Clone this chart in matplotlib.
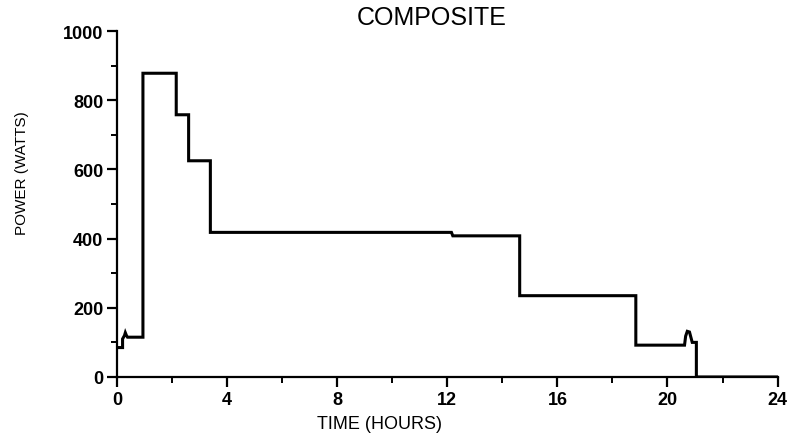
#!/usr/bin/env python
# coding=utf-8

import matplotlib
matplotlib.use('Agg')
import matplotlib.pyplot as plt
from matplotlib.ticker import MultipleLocator

# power profile (hours, watts)
time_h = [0, 0.2, 0.2, 0.27, 0.3, 0.34, 0.38, 0.94, 0.94, 2.15, 2.15, 2.6, 2.6,
          3.39, 3.39, 12.15, 12.2, 14.63, 14.63, 18.85, 18.85, 20.62, 20.66,
          20.72, 20.8, 20.86, 20.9, 21.05, 21.05, 24]
power_w = [85, 85, 110, 120, 128, 120, 115, 115, 878, 878, 758, 758, 625,
           625, 418, 418, 408, 408, 235, 235, 92, 92, 118, 132, 130, 112, 100,
           100, 0, 0]

xticks = [0, 4, 8, 12, 16, 20, 24]
yticks = [0, 200, 400, 600, 800, 1000]

plt.rcParams['font.family'] = ['Liberation Sans', 'DejaVu Sans']

fig = plt.figure(figsize=(7.91, 4.39), dpi=100)
ax = fig.add_axes([0.148, 0.139, 0.835, 0.788])

ax.plot(time_h, power_w, color='black', linewidth=2.2, solid_joinstyle='miter')

ax.set_xlim(0, 24)
ax.set_ylim(0, 1000)
ax.set_xticks(xticks)
ax.set_yticks(yticks)
ax.xaxis.set_minor_locator(MultipleLocator(2))
ax.yaxis.set_minor_locator(MultipleLocator(100))
ax.tick_params(which='major', length=7, width=1.6, labelsize=13, pad=3)
ax.tick_params(which='minor', length=4, width=1.4)
for lab in ax.get_xticklabels() + ax.get_yticklabels():
	lab.set_fontweight('bold')

for side in ['top', 'right']:
	ax.spines[side].set_visible(False)
for side in ['left', 'bottom']:
	ax.spines[side].set_linewidth(1.6)

ax.set_xlabel("TIME (HOURS)", fontsize=13)
ax.xaxis.set_label_coords(0.398, -0.11)
ax.set_ylabel("POWER (WATTS)", fontsize=11)
ax.yaxis.set_label_coords(-0.133, 0.592)
fig.text(0.546, 0.958, "COMPOSITE", fontsize=18, ha='center', va='center')

plt.savefig('out.png', dpi=100)
